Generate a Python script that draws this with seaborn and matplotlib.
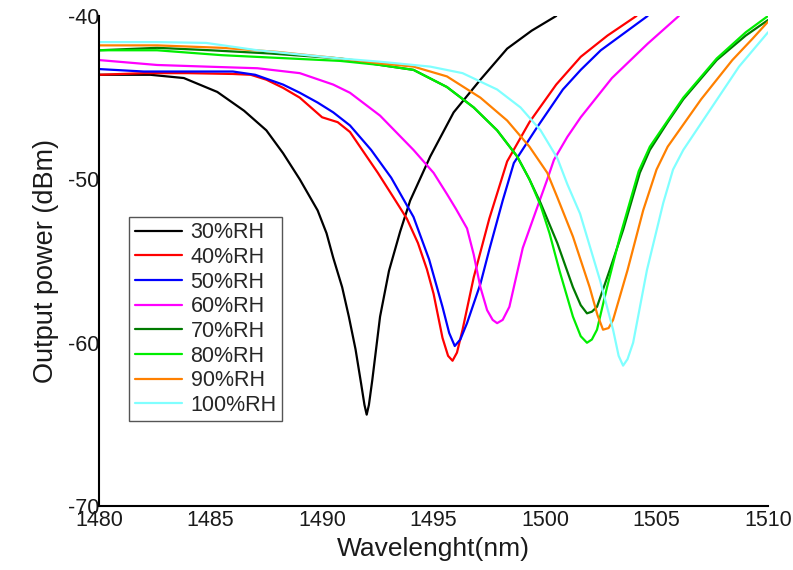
import pandas as pd
import matplotlib
matplotlib.use("Agg")
import matplotlib.pyplot as plt
import seaborn as sns

# transmission dips, one (wavelength, power) list per humidity
wl_30 = [1480.0, 1481.5, 1482.3, 1483.8, 1485.3, 1486.5, 1487.5, 1488.25, 1489.0, 1489.8, 1490.2,
         1490.5, 1490.9, 1491.2, 1491.5, 1491.75, 1491.9, 1492.0, 1492.1, 1492.25, 1492.6, 1493.0,
         1493.5, 1493.95, 1494.85, 1495.9, 1497.1, 1498.3, 1499.4, 1500.5]
p_30 = [-43.6, -43.6, -43.6, -43.8, -44.65, -45.8, -47.0, -48.4, -50.0, -51.9, -53.3,
        -54.8, -56.6, -58.4, -60.4, -62.5, -63.8, -64.4, -63.8, -62.3, -58.4, -55.6,
        -53.2, -51.3, -48.6, -45.9, -43.9, -42.0, -40.9, -40.0]

wl_40 = [1480.0, 1482.0, 1484.0, 1486.0, 1486.8, 1487.5, 1488.25, 1489.0, 1489.5, 1490.0, 1490.7,
         1491.25, 1491.8, 1492.5, 1493.2, 1493.8, 1494.3, 1494.7, 1495.0, 1495.4, 1495.65, 1495.85,
         1496.05, 1496.3, 1496.8, 1497.5, 1498.3, 1499.3, 1500.5, 1501.6, 1502.8, 1504.1]
p_40 = [-43.6, -43.5, -43.5, -43.55, -43.6, -43.9, -44.4, -45.0, -45.6, -46.2, -46.5,
        -47.1, -48.2, -49.6, -51.1, -52.4, -53.9, -55.5, -57.0, -59.7, -60.8, -61.1,
        -60.6, -59.2, -56.0, -52.4, -48.9, -46.5, -44.2, -42.5, -41.2, -40.0]

wl_50 = [1480.0, 1482.0, 1484.0, 1486.0, 1487.0, 1488.25, 1489.0, 1489.8, 1490.5, 1491.25, 1492.2,
         1493.1, 1494.1, 1494.8, 1495.4, 1495.7, 1495.95, 1496.2, 1496.5, 1497.1, 1497.5, 1498.1,
         1498.6, 1499.6, 1500.8, 1501.6, 1502.5, 1504.6]
p_50 = [-43.25, -43.4, -43.4, -43.4, -43.6, -44.2, -44.7, -45.3, -45.9, -46.7, -48.2,
        -49.9, -52.3, -54.9, -57.8, -59.4, -60.2, -59.8, -58.8, -56.4, -54.3, -51.3,
        -49.0, -46.9, -44.5, -43.3, -42.1, -40.0]

wl_60 = [1480.0, 1482.6, 1484.8, 1487.1, 1489.0, 1490.5, 1491.25, 1492.6, 1494.1, 1495.0, 1495.6,
         1496.0, 1496.5, 1496.8, 1497.1, 1497.4, 1497.65, 1497.85, 1498.1, 1498.4, 1499.0, 1499.6,
         1500.1, 1500.4, 1501.0, 1501.6, 1503.0, 1504.6, 1506.0]
p_60 = [-42.7, -43.0, -43.1, -43.2, -43.5, -44.2, -44.7, -46.1, -48.2, -49.6, -50.9,
        -51.8, -53.0, -54.6, -56.6, -58.0, -58.6, -58.8, -58.6, -57.8, -54.2, -51.9,
        -50.0, -48.8, -47.4, -46.2, -43.8, -41.7, -40.0]

wl_70 = [1480.0, 1482.6, 1485.0, 1487.7, 1490.8, 1492.6, 1494.1, 1495.6, 1496.8, 1497.85, 1498.75,
         1499.3, 1499.8, 1500.55, 1501.25, 1501.6, 1501.88, 1502.1, 1502.33, 1502.9, 1503.5, 1504.25,
         1504.7, 1505.5, 1506.2, 1507.7, 1509.0, 1510.0]
p_70 = [-42.1, -41.95, -42.1, -42.3, -42.6, -43.0, -43.3, -44.35, -45.6, -47.0, -48.6,
        -50.0, -51.45, -53.9, -56.6, -57.7, -58.2, -58.1, -57.8, -55.55, -53.1, -49.6,
        -48.2, -46.5, -45.1, -42.7, -41.2, -40.25]

wl_80 = [1480.0, 1482.6, 1485.5, 1490.8, 1492.6, 1494.1, 1495.6, 1496.8, 1497.85, 1498.75, 1499.3,
         1499.8, 1500.2, 1500.65, 1501.25, 1501.6, 1501.88, 1502.1, 1502.33, 1502.78, 1503.36, 1504.2,
         1504.7, 1505.5, 1506.2, 1507.7, 1509.0, 1510.0]
p_80 = [-42.1, -42.1, -42.4, -42.75, -43.0, -43.3, -44.35, -45.6, -47.0, -48.6, -50.0,
        -51.6, -53.3, -55.6, -58.4, -59.6, -60.0, -59.8, -59.2, -56.6, -53.5, -49.5,
        -48.0, -46.4, -45.0, -42.6, -41.0, -40.0]

wl_90 = [1480.0, 1482.6, 1485.5, 1488.0, 1490.8, 1492.6, 1494.1, 1495.6, 1497.1, 1498.3, 1499.3,
         1500.1, 1500.55, 1501.25, 1502.0, 1502.35, 1502.6, 1502.85, 1503.05, 1503.7, 1504.4, 1505.0,
         1505.5, 1507.0, 1508.4, 1509.3, 1510.0]
p_90 = [-41.8, -41.8, -41.95, -42.2, -42.6, -42.9, -43.1, -43.7, -45.0, -46.4, -48.0,
        -49.6, -51.1, -53.5, -56.6, -58.3, -59.2, -59.1, -58.6, -55.55, -51.9, -49.4,
        -48.0, -45.1, -42.7, -41.4, -40.35]

wl_100 = [1480.0, 1482.6, 1484.8, 1487.1, 1490.8, 1492.6, 1494.85, 1496.3, 1497.85, 1498.9, 1499.8,
          1500.55, 1501.0, 1501.57, 1502.47, 1503.05, 1503.3, 1503.5, 1503.7, 1503.95, 1504.57, 1505.3,
          1505.74, 1506.2, 1507.4, 1508.7, 1510.0]
p_100 = [-41.6, -41.6, -41.65, -42.1, -42.6, -42.8, -43.1, -43.5, -44.5, -45.6, -47.0,
         -48.7, -50.3, -52.1, -56.2, -59.2, -60.8, -61.4, -61.0, -60.0, -55.55, -51.45,
         -49.4, -48.2, -45.75, -43.1, -41.0]

labels = ["30%RH", "40%RH", "50%RH", "60%RH", "70%RH", "80%RH", "90%RH", "100%RH"]
wavelengths = [wl_30, wl_40, wl_50, wl_60, wl_70, wl_80, wl_90, wl_100]
powers = [p_30, p_40, p_50, p_60, p_70, p_80, p_90, p_100]
colors = ["#000000", "#ff0000", "#0000ff", "#ff00ff", "#007a00", "#00ee00", "#ff8000", "#80ffff"]

x_ticks = [1480, 1485, 1490, 1495, 1500, 1505, 1510]
y_ticks = [-70, -60, -50, -40]

sns.set_style("white")
plt.rcParams["font.family"] = ["Liberation Sans", "DejaVu Sans"]
plt.rcParams["axes.unicode_minus"] = False

fig = plt.figure(figsize=(7.93, 5.70), dpi=100)
ax = fig.add_axes([0.125, 0.112, 0.8435, 0.86])

for wl, pw, lab, col in zip(wavelengths, powers, labels, colors):
    df = pd.DataFrame({"wavelength": wl, "power": pw})
    sns.lineplot(data=df, x="wavelength", y="power", color=col, label=lab,
                 linewidth=1.6, sort=False, estimator=None, ax=ax,
                 solid_joinstyle="round", solid_capstyle="round")

ax.set_xlim(1480, 1510)
ax.set_ylim(-70, -40)
ax.set_xticks(x_ticks)
ax.set_yticks(y_ticks)
ax.tick_params(axis="both", length=0, labelsize=15.5, colors="#1a1a1a")
ax.tick_params(axis="y", pad=0)
ax.tick_params(axis="x", pad=3)

ax.set_xlabel("Wavelenght(nm)", fontsize=19, color="#1a1a1a", labelpad=4)
ax.set_ylabel("Output power (dBm)", fontsize=19.5, color="#1a1a1a", labelpad=6)

for side in ["top", "right"]:
    ax.spines[side].set_visible(False)
for side in ["left", "bottom"]:
    ax.spines[side].set_color("black")
    ax.spines[side].set_linewidth(1.5)

leg = ax.legend(loc="upper left", bbox_to_anchor=(0.045, 0.59), fontsize=15.5,
                frameon=True, fancybox=False, edgecolor="#555555", framealpha=1,
                handlelength=2.2, handletextpad=0.4, labelspacing=0.17,
                borderpad=0.25, borderaxespad=0)
leg.get_frame().set_linewidth(1.0)

fig.savefig("out.png", dpi=100)
